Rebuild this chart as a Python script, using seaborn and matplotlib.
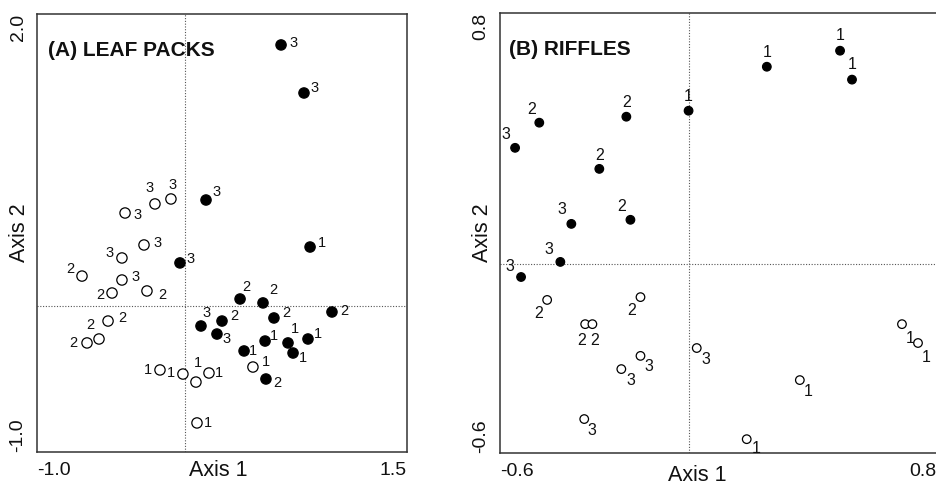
import matplotlib
matplotlib.use("Agg")
import matplotlib.pyplot as plt
import matplotlib.transforms as mtransforms
import pandas as pd
import seaborn as sns

# ---- (A) LEAF PACKS : open symbols
leaf_open_x = [-0.405, -0.203, -0.095, -0.277, -0.426, -0.696, -0.426, -0.493, -0.257,
               -0.520, -0.581, -0.662, -0.169, -0.014, 0.074, 0.162, 0.459, 0.081]
leaf_open_y = [0.637, 0.699, 0.733, 0.418, 0.329, 0.205, 0.178, 0.089, 0.103,
               -0.103, -0.226, -0.253, -0.438, -0.466, -0.521, -0.459, -0.418, -0.801]
leaf_open_lab = ["3", "3", "3", "3", "3", "2", "3", "2", "2",
                 "2", "2", "2", "1", "1", "1", "1", "1", "1"]

# ---- (A) LEAF PACKS : filled symbols
leaf_fill_x = [0.649, 0.804, 0.142, 0.845, -0.034, 0.372, 0.527, 0.993, 0.108,
               0.250, 0.601, 0.216, 0.541, 0.696, 0.831, 0.730, 0.399, 0.547]
leaf_fill_y = [1.788, 1.459, 0.726, 0.404, 0.295, 0.048, 0.021, -0.041, -0.137,
               -0.103, -0.082, -0.192, -0.240, -0.253, -0.226, -0.322, -0.308, -0.500]
leaf_fill_lab = ["3", "3", "3", "1", "3", "2", "2", "2", "3",
                 "2", "2", "3", "1", "1", "1", "1", "1", "2"]

# ---- (B) RIFFLES : filled symbols
riffle_fill_x = [-0.552, -0.475, -0.198, 0.0, -0.284, -0.373, -0.185, -0.408, -0.533, 0.249, 0.482, 0.520]
riffle_fill_y = [0.371, 0.451, 0.470, 0.489, 0.304, 0.129, 0.142, 0.008, -0.040, 0.629, 0.680, 0.588]
riffle_fill_lab = ["3", "2", "2", "1", "2", "3", "2", "3", "3", "1", "1", "1"]

# ---- (B) RIFFLES : open symbols
riffle_open_x = [-0.450, -0.153, -0.329, -0.306, -0.153, -0.214, -0.332, 0.026, 0.354, 0.185, 0.679, 0.730]
riffle_open_y = [-0.113, -0.104, -0.190, -0.190, -0.291, -0.333, -0.492, -0.266, -0.368, -0.556, -0.190, -0.250]
riffle_open_lab = ["2", "2", "2", "2", "3", "3", "3", "3", "1", "1", "1", "1"]

# label placement next to each symbol (pixels, right / down)
leaf_open_off = [(12, 2), (-5, -16), (2, -14), (14, -2), (-12, -5), (-12, -7), (14, -3), (-12, 2), (15, 4),
                 (14, -3), (-9, -14), (-14, 0), (-12, 0), (-12, -1), (2, -19), (10, 0), (13, -5), (11, 0)]
leaf_fill_off = [(12, -2), (11, -5), (11, -8), (12, -4), (11, -4), (6, -12), (10, -13), (12, -1), (6, -13),
                 (12, -5), (12, -5), (10, 5), (9, -5), (7, -14), (10, -5), (10, 5), (9, 0), (11, 4)]
riffle_fill_off = [(-9, -13), (-8, -13), (0, -14), (0, -14), (0, -13), (-9, -14), (-9, -13), (-11, -12),
                   (-11, -11), (0, -14), (0, -15), (0, -15)]
riffle_open_off = [(-9, 14), (-9, 13), (-4, 16), (2, 16), (8, 11), (10, 11), (8, 11), (9, 11),
                   (8, 11), (9, 9), (8, 14), (8, 14)]


def make_df(ox, oy, olab, fx, fy, flab):
    a = pd.DataFrame({"x": ox, "y": oy, "lab": olab, "kind": "open"})
    b = pd.DataFrame({"x": fx, "y": fy, "lab": flab, "kind": "filled"})
    return pd.concat([a, b], ignore_index=True)


sns.set_style("white")
plt.rcParams["font.family"] = ["Liberation Sans", "DejaVu Sans"]

fig = plt.figure(figsize=(9.37, 4.86), dpi=100)
axA = fig.add_axes([37 / 937, 34 / 486, 370 / 937, 438 / 486])
axB = fig.add_axes([500 / 937, 33 / 486, 440 / 937, 440 / 486])


def shift(artist, dx, dy):
    artist.set_transform(artist.get_transform() + mtransforms.Affine2D().translate(dx, dy))


def draw_panel(ax, df, offsets, msize, lab_fs, xlim, ylim, xticks, yticks, xlab, ylab, title, title_x,
               xlab_pos, ylab_pos, ybot_shift):
    ax.axvline(0, color="#555555", ls=(0, (1, 1.5)), lw=0.8, zorder=0)
    ax.axhline(0, color="#555555", ls=(0, (1, 1.5)), lw=0.8, zorder=0)
    sns.scatterplot(data=df, x="x", y="y", hue="kind", palette={"open": "white", "filled": "black"},
                    s=msize, edgecolor="black", linewidth=0.9, legend=False, ax=ax, zorder=3)
    for (x, y, lab), (dx, dy) in zip(df[["x", "y", "lab"]].itertuples(index=False), offsets):
        ax.annotate(lab, (x, y), xytext=(dx, -dy), textcoords="offset pixels",
                    ha="center", va="center", fontsize=lab_fs, color="#111111")
    ax.set_xlim(*xlim)
    ax.set_ylim(*ylim)
    ax.set_xticks(xticks)
    ax.set_xticklabels([xlab[0]] + [""] * (len(xticks) - 2) + [xlab[1]], fontsize=14)
    ax.set_yticks(yticks)
    ax.set_yticklabels([ylab[0]] + [""] * (len(yticks) - 2) + [ylab[1]], fontsize=14, rotation=90)
    ax.get_xticklabels()[0].set_ha("left")
    ax.get_xticklabels()[-1].set_ha("right")
    ax.get_yticklabels()[0].set_va("bottom")
    ax.get_yticklabels()[-1].set_va("top")
    shift(ax.get_yticklabels()[0], 0, ybot_shift)
    ax.tick_params(direction="inout", length=5, width=1, color="#333333", pad=5, labelcolor="#111111")
    for sp in ax.spines.values():
        sp.set_color("#333333")
        sp.set_linewidth(1.1)
    ax.set_xlabel("Axis 1", fontsize=15.5, color="#111111")
    ax.set_ylabel("Axis 2", fontsize=15.5, color="#111111")
    ax.xaxis.set_label_coords(*xlab_pos)
    ax.yaxis.set_label_coords(*ylab_pos)
    ax.xaxis.label.set_va("center")
    ax.yaxis.label.set_va("center")
    ax.text(title_x, 0.905, title, transform=ax.transAxes,
            fontsize=15, fontweight="bold", va="baseline", ha="left", color="#111111")


leaf = make_df(leaf_open_x, leaf_open_y, leaf_open_lab, leaf_fill_x, leaf_fill_y, leaf_fill_lab)
draw_panel(axA, leaf, leaf_open_off + leaf_fill_off, 55, 10.5,
           (-1.0, 1.5), (-1.0, 2.0), [-1.0, -0.5, 0, 0.5, 1.0, 1.5], [-1.0, -0.5, 0, 0.5, 1.0, 1.5, 2.0],
           ("-1.0", "1.5"), ("-1.0", "2.0"), "(A) LEAF PACKS", 0.03, (0.49, -0.043), (-0.046, 0.5), 14)

riffle = make_df(riffle_open_x, riffle_open_y, riffle_open_lab, riffle_fill_x, riffle_fill_y, riffle_fill_lab)
draw_panel(axB, riffle, riffle_open_off + riffle_fill_off, 38, 11.5,
           (-0.6, 0.8), (-0.6, 0.8), [-0.6, -0.4, -0.2, 0, 0.2, 0.4, 0.6, 0.8],
           [-0.6, -0.4, -0.2, 0, 0.2, 0.4, 0.6, 0.8],
           ("-0.6", "0.8"), ("-0.6", "0.8"), "(B) RIFFLES", 0.02, (0.448, -0.050), (-0.039, 0.5), 4)
# keep the right-hand "0.8" inside the picture
shift(axB.get_xticklabels()[-1], -4, 0)

fig.savefig("out.png", dpi=100)
